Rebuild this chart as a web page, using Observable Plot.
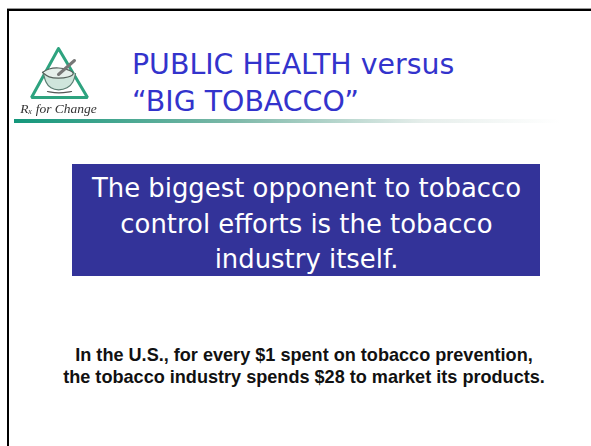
<!DOCTYPE html>
<html>
<head>
<meta charset="utf-8">
<style>
html,body{margin:0;padding:0;background:#fff;overflow:hidden}
svg{display:block}
.logo{filter:blur(.45px)}
</style>
<script src="https://cdn.jsdelivr.net/npm/d3@7"></script>
<script src="https://cdn.jsdelivr.net/npm/@observablehq/plot@0.6"></script>
</head>
<body>
<script>
const titleLines = ["PUBLIC HEALTH versus", "“BIG TOBACCO”"];
const titleBaselines = [73.5, 110];
const boxLines = ["The biggest opponent to tobacco", "control efforts is the tobacco", "industry itself."];
const boxBaselines = [196, 232, 267.5];
const noteLines = ["In the U.S., for every $1 spent on tobacco prevention,", "the tobacco industry spends $28 to market its products."];
const noteBaselines = [360, 382];
const logoCaption = ["Rₓ for Change"];
const triangle = [[58,48],[31,97],[87,97],[58,48]];
const bowl = [[43,73],[45,82],[50,88],[58,90],[67,88],[73,82],[75,73]];
const bowlRim = [[42,72],[48,68],[58,67],[68,69],[75,73],[68,77],[58,78],[48,77],[42,72]];
const base = [[47,91],[58,93],[71,91]];
const pestle = [[58,74],[66,67],[74,60]];

const frame = (d) => ({x: d[0], y: d[1]});
const ts = (arr) => arr.map(frame);
const bodyFont = "'Liberation Sans', Arial, sans-serif";
const titleFont = "'DejaVu Sans', Verdana, sans-serif";

const gradientDefs = () => {
  const svg = d3.create("svg:defs");
  const g = svg.append("linearGradient").attr("id", "ruleGrad");
  g.append("stop").attr("offset", "0%").attr("stop-color", "#14977b");
  g.append("stop").attr("offset", "40%").attr("stop-color", "#7cb8a8");
  g.append("stop").attr("offset", "75%").attr("stop-color", "#e6eeeb");
  g.append("stop").attr("offset", "100%").attr("stop-color", "#ffffff");
  return svg.node();
};

const chart = Plot.plot({
  width: 591, height: 446,
  margin: 0,
  x: {domain: [0, 591], range: [0, 591], axis: null},
  y: {domain: [0, 446], range: [0, 446], axis: null},
  style: {background: "#fff"},
  marks: [
    gradientDefs,
    Plot.rectY([0], {x1: 7, x2: 591, y1: 8, y2: 9, fill: "#999"}),
    Plot.rectY([0], {x1: 7, x2: 591, y1: 9, y2: 11, fill: "#000"}),
    Plot.rectY([0], {x1: 7, x2: 9, y1: 9, y2: 446, fill: "#000"}),
    Plot.rectY([0], {x1: 14, x2: 560, y1: 119, y2: 123, fill: "url(#ruleGrad)"}),
    Plot.rectY([0], {x1: 72, x2: 540, y1: 164, y2: 276, fill: "#333399"}),
    Plot.line(ts(triangle), {x: "x", y: "y", stroke: "#2ea37f", strokeWidth: 3, strokeLinejoin: "miter", className: "logo"}),
    Plot.line(ts(bowl), {x: "x", y: "y", curve: "basis", stroke: "#5c7d72", fill: "#cfe5dc", strokeWidth: 1.2, className: "logo"}),
    Plot.line(ts(bowlRim), {x: "x", y: "y", curve: "basis", stroke: "#55605b", fill: "#e6efeb", strokeWidth: 1.2, className: "logo"}),
    Plot.line(ts(base), {x: "x", y: "y", curve: "basis", stroke: "#555", strokeWidth: 1.2, className: "logo"}),
    Plot.line(ts(pestle), {x: "x", y: "y", stroke: "#777", strokeWidth: 3, className: "logo"}),
    Plot.text(logoCaption, {x: 58, y: 108, text: d => d, fontFamily: "'Liberation Serif', serif", fontStyle: "italic", fontSize: 13.5, fill: "#333", textAnchor: "middle", lineAnchor: "middle", className: "logo"}),
    Plot.text(titleLines, {x: 131.5, y: (d, i) => titleBaselines[i], text: d => d, fontFamily: titleFont, fontSize: 28.4, fill: "#3333cc", textAnchor: "start", lineAnchor: "bottom"}),
    Plot.text(boxLines, {x: 306, y: (d, i) => boxBaselines[i], text: d => d, fontFamily: titleFont, fontSize: 25.9, fill: "#fff", textAnchor: "middle", lineAnchor: "bottom"}),
    Plot.text(noteLines, {x: 303.5, y: (d, i) => noteBaselines[i], text: d => d, fontFamily: bodyFont, fontSize: 18.1, fontWeight: 700, fill: "#111", textAnchor: "middle", lineAnchor: "bottom"})
  ]
});
document.body.appendChild(chart);
</script>
</body>
</html>
